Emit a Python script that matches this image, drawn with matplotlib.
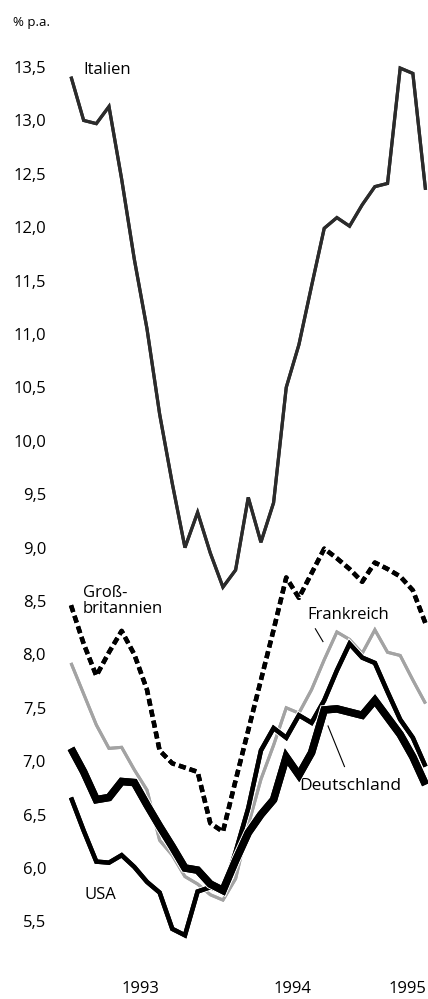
import matplotlib
matplotlib.use('Agg')
import matplotlib.pyplot as plt
import matplotlib.patheffects as pe

plt.rcParams['font.family'] = ['Open Sans', 'DejaVu Sans']

# monthly yields, Jan 1993 .. May 1995 (% p.a.)
months = list(range(29))
italien = [13.41, 13.00, 12.97, 13.13, 12.45, 11.70, 11.05, 10.25, 9.60, 9.00,
           9.33, 8.95, 8.63, 8.79, 9.47, 9.05, 9.42, 10.50, 10.90, 11.45,
           11.99, 12.09, 12.01, 12.21, 12.38, 12.41, 13.49, 13.44, 12.35]
gb = [8.46, 8.10, 7.80, 8.02, 8.22, 8.00, 7.67, 7.10, 6.98, 6.94,
      6.90, 6.42, 6.34, 6.82, 7.29, 7.76, 8.23, 8.72, 8.53, 8.76,
      8.99, 8.90, 8.80, 8.68, 8.86, 8.80, 8.73, 8.60, 8.29]
frankreich = [7.92, 7.63, 7.34, 7.12, 7.13, 6.92, 6.73, 6.26, 6.12, 5.92,
              5.85, 5.75, 5.70, 5.90, 6.40, 6.83, 7.15, 7.50, 7.45, 7.67,
              7.95, 8.21, 8.14, 8.01, 8.23, 8.02, 7.99, 7.76, 7.54]
deutschland = [7.12, 6.90, 6.64, 6.66, 6.81, 6.80, 6.59, 6.39, 6.20, 6.00,
               5.98, 5.85, 5.79, 6.07, 6.33, 6.50, 6.64, 7.04, 6.87, 7.08,
               7.48, 7.49, 7.46, 7.43, 7.57, 7.41, 7.25, 7.04, 6.78]
usa = [6.66, 6.35, 6.06, 6.05, 6.12, 6.01, 5.87, 5.77, 5.43, 5.37,
       5.78, 5.82, 5.78, 6.15, 6.56, 7.10, 7.31, 7.22, 7.43, 7.36,
       7.57, 7.85, 8.10, 7.97, 7.92, 7.65, 7.39, 7.22, 6.95]

yticks = [5.5, 6.0, 6.5, 7.0, 7.5, 8.0, 8.5, 9.0, 9.5, 10.0, 10.5, 11.0,
          11.5, 12.0, 12.5, 13.0, 13.5]
year_pos = [5.5, 17.5, 26.6]
year_labels = ['1993', '1994', '1995']

fig = plt.figure(figsize=(4.28, 9.99), dpi=100)
ax = fig.add_axes([0.1659, 0.0456, 0.8283, 0.898])


def line(y, color, lw, ls='-', z=2):
    ax.plot(months, y, color=color, lw=lw, ls=ls, zorder=z, clip_on=False,
            solid_joinstyle='miter', solid_capstyle='butt',
            dash_capstyle='butt',
            path_effects=[pe.withStroke(linewidth=lw + 1.6, foreground='white'),
                          pe.Normal()])


line(italien, '#2b2b2b', 2.3, z=2)
line(gb, 'black', 3.2, ls=(0, (1.6, 0.9)), z=3)
line(frankreich, '#a3a3a3', 2.2, z=4)
line(usa, 'black', 3.2, z=5)
line(deutschland, 'black', 5.4, z=6)

ax.set_xlim(0, 28)
ax.set_ylim(5.2, 13.6)
ax.set_yticks(yticks)
ax.set_yticklabels([f'{v:.1f}'.replace('.', ',') for v in yticks])
ax.set_xticks(year_pos)
ax.set_xticklabels(year_labels)
ax.tick_params(axis='y', length=0, pad=18, labelsize=12)
ax.tick_params(axis='x', length=0, pad=20, labelsize=12)
for s in ax.spines.values():
    s.set_visible(False)

fig.text(0.031, 0.977, '% p.a.', fontsize=9.5, va='center', ha='left')

ax.text(0.95, 13.47, 'Italien', fontsize=12, va='center', ha='left')
ax.text(0.95, 8.5, 'Groß-\nbritannien', fontsize=12, va='center', ha='left',
        linespacing=0.95)
ax.text(18.7, 8.37, 'Frankreich', fontsize=12, va='center', ha='left')
ax.plot([19.3, 19.9], [8.24, 8.12], color='black', lw=0.8)
ax.text(18.0, 6.77, 'Deutschland', fontsize=12.5, va='center', ha='left')
ax.plot([20.3, 21.6], [7.33, 6.95], color='black', lw=0.8)
ax.text(1.1, 5.75, 'USA', fontsize=12, va='center', ha='left')

fig.savefig('out.png', dpi=100)
